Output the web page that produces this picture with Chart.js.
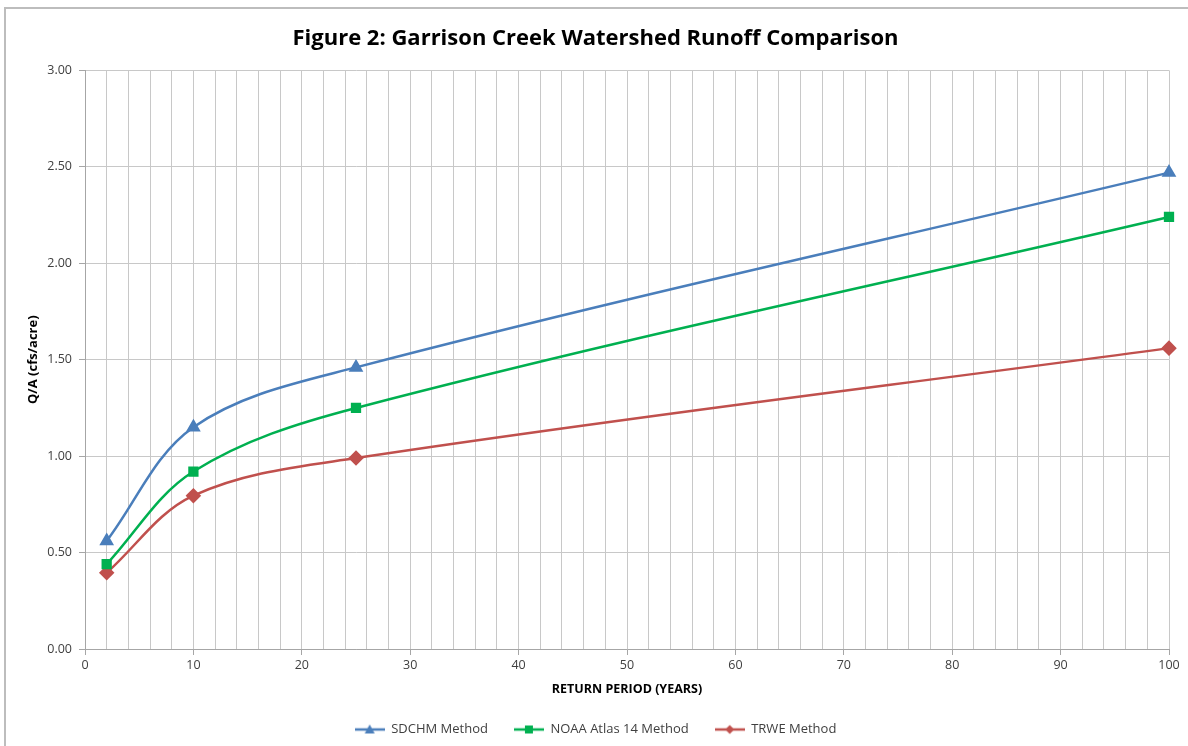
<!DOCTYPE html>
<html>
<head>
<meta charset="utf-8">
<script src="https://cdn.jsdelivr.net/npm/chart.js@4.4.0/dist/chart.umd.min.js"></script>
<style>
  html, body { margin: 0; padding: 0; background: #fff; }
  #wrap { width: 1188px; height: 746px; position: relative; }
</style>
</head>
<body>
<div id="wrap"><canvas id="c" width="1188" height="746"></canvas></div>
<script>
// ---- data ----
const returnPeriods = [2, 10, 25, 100];
const sdchmValues = [0.56, 1.15, 1.46, 2.47];
const noaaValues = [0.44, 0.92, 1.25, 2.24];
const trweValues = [0.395, 0.795, 0.99, 1.56];
const seriesNames = ['SDCHM Method', 'NOAA Atlas 14 Method', 'TRWE Method'];
const yTicks = [0, 0.5, 1.0, 1.5, 2.0, 2.5, 3.0];
const xMajorStep = 10;

const colors = ['#4A7EBB', '#00B050', '#C0504D'];
const styles = ['triangle', 'rect', 'rectRot'];

function toPoints(vals) { return returnPeriods.map((x, i) => ({ x: x, y: vals[i] })); }

function legendIcon(color, style) {
  const cv = document.createElement('canvas');
  cv.width = 30; cv.height = 12;
  const g = cv.getContext('2d');
  g.strokeStyle = color; g.lineWidth = 2.5;
  g.beginPath(); g.moveTo(0, 6); g.lineTo(30, 6); g.stroke();
  g.fillStyle = color;
  g.beginPath();
  if (style === 'triangle') { g.moveTo(15, 1); g.lineTo(20, 10); g.lineTo(10, 10); g.closePath(); }
  else if (style === 'rect') { g.rect(11, 2, 8, 8); }
  else { g.moveTo(15, 1.5); g.lineTo(19.5, 6); g.lineTo(15, 10.5); g.lineTo(10.5, 6); g.closePath(); }
  g.fill();
  return cv;
}

const frame = {
  id: 'frame',
  beforeDraw(chart) {
    const ctx = chart.ctx;
    ctx.save();
    ctx.fillStyle = '#fff';
    ctx.fillRect(0, 0, chart.width, chart.height);
    ctx.strokeStyle = '#BDBDBD';
    ctx.lineWidth = 2;
    ctx.beginPath();
    ctx.moveTo(5, 746); ctx.lineTo(5, 8); ctx.lineTo(1188, 8);
    ctx.stroke();
    ctx.restore();
  }
};

const allVals = [sdchmValues, noaaValues, trweValues];
const datasets = allVals.map((v, i) => ({
  label: seriesNames[i],
  data: toPoints(v),
  borderColor: colors[i],
  backgroundColor: colors[i],
  borderWidth: 2.5,
  pointStyle: styles[i],
  pointRadius: i === 1 ? 5.5 : 6,
  pointHoverRadius: 6,
  tension: 0.35,
  clip: false,
  fill: false
}));

const FONT = 'Open Sans, Liberation Sans, sans-serif';
const tickFont = { family: FONT, size: 12.5 };

new Chart(document.getElementById('c'), {
  type: 'line',
  data: { datasets: datasets },
  options: {
    responsive: false,
    animation: false,
    layout: { padding: { left: 22, right: 19, top: 0, bottom: 0 } },
    plugins: {
      title: {
        display: true,
        text: 'Figure 2: Garrison Creek Watershed Runoff Comparison',
        color: '#000',
        font: { family: FONT, size: 22, weight: 'bold' },
        padding: { top: 26, bottom: 18 }
      },
      legend: {
        position: 'bottom',
        labels: {
          usePointStyle: true,
          pointStyleWidth: 30,
          boxHeight: 12,
          padding: 26,
          color: '#404040',
          font: { family: FONT, size: 13 },
          generateLabels(chart) {
            return chart.data.datasets.map((d, i) => ({
              text: d.label,
              pointStyle: legendIcon(colors[i], styles[i]),
              fillStyle: colors[i],
              strokeStyle: colors[i],
              lineWidth: 0,
              fontColor: '#404040',
              hidden: false,
              datasetIndex: i
            }));
          }
        }
      },
      tooltip: { enabled: false }
    },
    scales: {
      x: {
        type: 'linear',
        min: 0, max: 100,
        afterFit(s) { s.height = 48; },
        ticks: {
          stepSize: 2,
          autoSkip: false,
          maxRotation: 0,
          color: '#404040',
          font: tickFont,
          padding: 3,
          callback: (v) => (v % xMajorStep === 0 ? String(v) : '')
        },
        grid: {
          color: '#C8C8C8',
          lineWidth: 1,
          tickLength: 6,
          tickColor: (ctx) => (ctx.tick && ctx.tick.value % xMajorStep === 0 ? '#A6A6A6' : 'rgba(0,0,0,0)')
        },
        border: { color: '#A6A6A6', width: 1 },
        title: {
          display: true,
          text: 'RETURN PERIOD (YEARS)',
          color: '#000',
          font: { family: FONT, size: 12.5, weight: 'bold' },
          padding: { top: 2, bottom: 0 }
        }
      },
      y: {
        min: 0, max: 3,
        afterFit(s) { s.width = 63; },
        afterBuildTicks(s) { s.ticks = yTicks.map(v => ({ value: v })); },
        ticks: {
          color: '#404040',
          font: tickFont,
          padding: 7,
          callback: (v) => Number(v).toFixed(2)
        },
        grid: { color: '#C8C8C8', lineWidth: 1, tickLength: 6, tickColor: '#A6A6A6' },
        border: { color: '#A6A6A6', width: 1 },
        title: {
          display: true,
          text: 'Q/A (cfs/acre)',
          color: '#000',
          font: { family: FONT, size: 13, weight: 'bold' },
          padding: { top: 3, bottom: 3 }
        }
      }
    }
  },
  plugins: [frame]
});
</script>
</body>
</html>
